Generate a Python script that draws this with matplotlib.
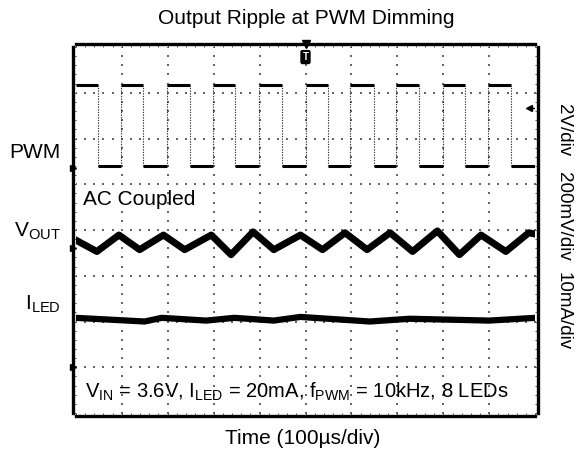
import numpy as np
import matplotlib
matplotlib.use("Agg")
import matplotlib.pyplot as plt
from matplotlib.ticker import MultipleLocator

plt.rcParams['font.family'] = ['Liberation Sans', 'DejaVu Sans']
plt.rcParams['mathtext.fontset'] = 'custom'
plt.rcParams['mathtext.rm'] = 'Liberation Sans'

# scope screen: 10 x 8 divisions (in divisions)
pwm_rise = [0.99, 1.98, 2.98, 3.99, 5.00, 5.97, 6.98, 7.99, 8.98]
pwm_fall = [0.48, 1.47, 2.49, 3.47, 4.48, 5.50, 6.48, 7.48, 8.47, 9.47]
pwm_high = 7.16
pwm_low = 5.40

vout_t = [0.0, 0.46, 0.94, 1.39, 1.91, 2.37, 2.95, 3.38, 3.86, 4.31, 4.89,
          5.37, 5.86, 6.34, 6.84, 7.33, 7.87, 8.35, 8.82, 9.36, 9.86, 10.0]
vout_v = [3.78, 3.53, 3.89, 3.57, 3.89, 3.57, 3.89, 3.46, 3.96, 3.57, 3.89,
          3.57, 3.94, 3.57, 3.94, 3.53, 3.98, 3.46, 3.89, 3.53, 3.94, 3.91]

iled_t = [0.0, 1.50, 1.87, 2.84, 3.45, 4.31, 4.89, 6.40, 7.27, 8.13, 9.00, 10.0]
iled_v = [2.08, 2.00, 2.08, 2.02, 2.08, 2.02, 2.10, 2.00, 2.06, 2.04, 2.02, 2.08]

# channel ground markers and trigger level
ch_marks = [5.36, 3.61, 1.00]
trig_level = 6.67
trig_time = 5.0

W, H = 578, 450
fig = plt.figure(figsize=(W / 100, H / 100), dpi=100)
ax = fig.add_axes([75.75 / W, 1 - 413 / H, 459.5 / W, 366 / H])
ax.set_xlim(0, 10)
ax.set_ylim(0, 8)

# dotted grid
gx = np.arange(0, 10.01, 0.2)
gy = np.arange(0, 8.01, 0.2)
for xv in range(1, 10):
    ax.scatter(np.full(len(gy), xv), gy, s=1.0, c='#666666', marker='s', lw=0)
for yv in range(1, 8):
    ax.scatter(gx, np.full(len(gx), yv), s=1.0, c='#666666', marker='s', lw=0)

ax.xaxis.set_major_locator(MultipleLocator(0.2))
ax.yaxis.set_major_locator(MultipleLocator(0.2))
ax.tick_params(direction='in', length=2.5, width=0.7, color='#555555',
               top=True, right=True, labelbottom=False, labelleft=False)
for s in ax.spines.values():
    s.set_linewidth(2.4)
    s.set_position(('outward', 2))

# PWM trace
hi_start = [0.0] + pwm_rise
lo_end = pwm_rise + [10.0]
ax.hlines([pwm_high] * len(pwm_fall), hi_start, pwm_fall, colors='black', lw=2.2)
ax.hlines([pwm_low] * len(pwm_fall), pwm_fall, lo_end, colors='black', lw=2.2)
ax.vlines(pwm_rise + pwm_fall, pwm_low, pwm_high, colors='#333333', lw=0.8,
          linestyles=(0, (1.2, 1.2)))

# VOUT ripple and LED current
ax.plot(vout_t, vout_v, color='black', lw=5, solid_joinstyle='round')
ax.plot(iled_t, iled_v, color='black', lw=4.5, solid_joinstyle='round')

# markers
ax.plot([-0.06] * 3, ch_marks, marker='>', ms=5, color='black', ls='none', clip_on=False)
ax.plot([9.86], [trig_level], marker='<', ms=5, color='black', clip_on=False)
ax.plot([9.86, 9.99], [trig_level, trig_level], color='black', lw=1)
ax.plot([trig_time], [8.06], marker='v', ms=6, color='black', clip_on=False)
ax.text(trig_time, 7.78, 'T', ha='center', va='center', color='white',
        fontsize=7, fontweight='bold',
        bbox=dict(boxstyle='round,pad=0.15', fc='black', ec='black'))

fs = 15
fig.text(306 / W, 1 - 18 / H, 'Output Ripple at PWM Dimming', ha='center', va='center', fontsize=fs)
fig.text(303 / W, 1 - 438 / H, 'Time (100µs/div)', ha='center', va='center', fontsize=fs)
fig.text(61 / W, 1 - 152 / H, 'PWM', ha='right', va='center', fontsize=fs)
fig.text(61 / W, 1 - 231 / H, r'V$_{\mathregular{OUT}}$', ha='right', va='center', fontsize=fs)
fig.text(61 / W, 1 - 304 / H, r'I$_{\mathregular{LED}}$', ha='right', va='center', fontsize=fs)
fig.text(83 / W, 1 - 199 / H, 'AC Coupled', ha='left', va='center', fontsize=fs)
fig.text(85 / W, 1 - 392 / H,
         r'V$_{\mathregular{IN}}$ = 3.6V, I$_{\mathregular{LED}}$ = 20mA, '
         r'f$_{\mathregular{PWM}}$ = 10kHz, 8 LEDs',
         ha='left', va='center', fontsize=14.5)
fig.text(563 / W, 1 - 130 / H, '2V/div', rotation=270, ha='center', va='center', fontsize=13.5)
fig.text(563 / W, 1 - 216 / H, '200mV/div', rotation=270, ha='center', va='center', fontsize=13.5)
fig.text(563 / W, 1 - 311 / H, '10mA/div', rotation=270, ha='center', va='center', fontsize=13.5)

fig.savefig('out.png', dpi=100)
